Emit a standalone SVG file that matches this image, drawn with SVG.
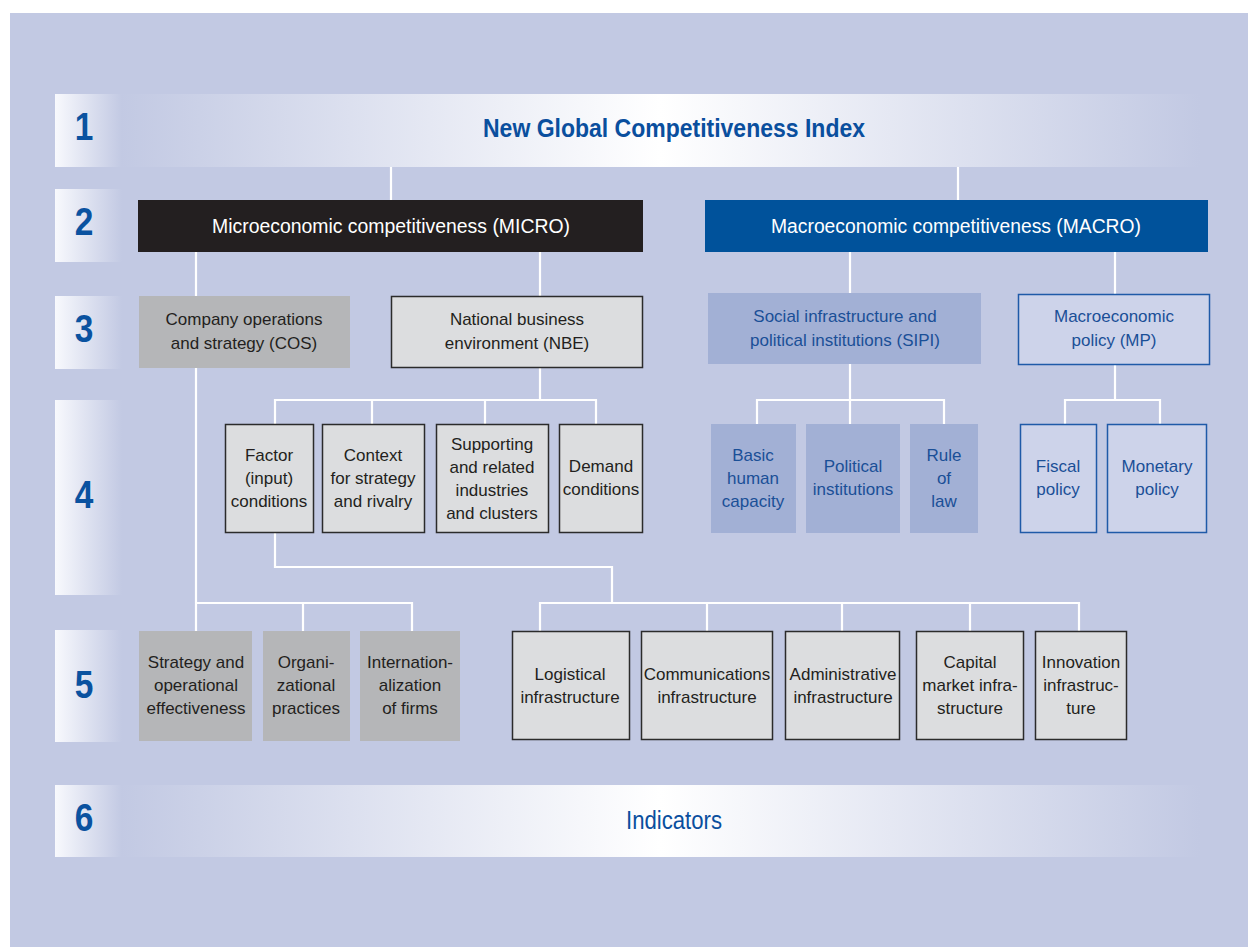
<svg xmlns="http://www.w3.org/2000/svg" width="1248" height="947" viewBox="0 0 1248 947">
<defs>
<linearGradient id="cellGrad" x1="0" y1="0" x2="1" y2="0">
<stop offset="0" stop-color="#f8f9fd"/>
<stop offset="1" stop-color="#c2c9e3"/>
</linearGradient>
<linearGradient id="bandGrad" gradientUnits="userSpaceOnUse" x1="120" y1="0" x2="1200" y2="0">
<stop offset="0" stop-color="#c2c9e3"/>
<stop offset="0.5" stop-color="#ffffff"/>
<stop offset="1" stop-color="#c2c9e3"/>
</linearGradient>
<style>
text{font-family:"Liberation Sans",Arial,sans-serif;text-anchor:middle}
.num{font-size:38px;font-weight:bold;fill:#0a52a0}
.t{font-size:17px;fill:#231f20}
.tb{font-size:17px;fill:#1a4f97}
.hdr{font-size:20px;fill:#ffffff}
.title{font-size:25px;font-weight:bold;fill:#0a4f9e}
.ind{font-size:25px;fill:#0a4f9e}
.gray{fill:#b5b6b8}
.light{fill:#dcdddf;stroke:#2b2b2b;stroke-width:1.5}
.sipi{fill:#a2b0d5}
.mp{fill:#cdd3ea;stroke:#1f5aa8;stroke-width:1.5}
.conn{fill:none;stroke:#ffffff;stroke-width:2.2}
</style>
</defs>
<rect x="0" y="0" width="1248" height="947" fill="#ffffff"/>
<rect x="10" y="13" width="1238" height="934" fill="#c2c9e3"/>

<g id="rows">
<rect x="120" y="94" width="1080" height="73" fill="url(#bandGrad)"/>
<rect x="120" y="785" width="1080" height="72" fill="url(#bandGrad)"/>
<rect x="55" y="94" width="67" height="73" fill="url(#cellGrad)"/>
<rect x="55" y="189" width="67" height="73" fill="url(#cellGrad)"/>
<rect x="55" y="296" width="67" height="73" fill="url(#cellGrad)"/>
<rect x="55" y="400" width="67" height="195" fill="url(#cellGrad)"/>
<rect x="55" y="630" width="67" height="112" fill="url(#cellGrad)"/>
<rect x="55" y="785" width="67" height="72" fill="url(#cellGrad)"/>
<text class="num" transform="translate(84,140) scale(0.88,1)">1</text>
<text class="num" transform="translate(84,235) scale(0.88,1)">2</text>
<text class="num" transform="translate(84,342) scale(0.88,1)">3</text>
<text class="num" transform="translate(84,508) scale(0.88,1)">4</text>
<text class="num" transform="translate(84,698) scale(0.88,1)">5</text>
<text class="num" transform="translate(84,831) scale(0.88,1)">6</text>
</g>

<g id="connectors">
<path class="conn" d="M391,167V200M958,167V200"/>
<path class="conn" d="M196,252V631M196,603H412V631M303,603V631"/>
<path class="conn" d="M540,252V296"/>
<path class="conn" d="M540,367V400M275,424V400H596V424M372,400V424M485,400V424"/>
<path class="conn" d="M275,533V567H612V603M540,631V603H1079V631M707,603V631M842,603V631M970,603V631"/>
<path class="conn" d="M850,252V293M850,364V424M757,424V400H944V424"/>
<path class="conn" d="M1115,252V294M1115,364V400M1065,424V400H1160V424"/>
</g>

<g id="gci">
<text class="title" x="674" y="137" textLength="382" lengthAdjust="spacingAndGlyphs">New Global Competitiveness Index</text>
</g>

<g id="micro">
<rect x="138" y="200" width="505" height="52" fill="#231f20"/>
<text class="hdr" x="391" y="233" textLength="358" lengthAdjust="spacingAndGlyphs">Microeconomic competitiveness (MICRO)</text>
</g>
<g id="macro">
<rect x="705" y="200" width="503" height="52" fill="#00529b"/>
<text class="hdr" x="956" y="233" textLength="370" lengthAdjust="spacingAndGlyphs">Macroeconomic competitiveness (MACRO)</text>
</g>

<g id="cos">
<rect class="gray" x="139" y="296" width="211" height="72"/>
<text class="t" x="244" y="325"><tspan x="244">Company operations</tspan><tspan x="244" dy="24">and strategy (COS)</tspan></text>
</g>
<g id="nbe">
<rect class="light" x="391.5" y="296.5" width="251" height="71"/>
<text class="t" x="517" y="325"><tspan x="517">National business</tspan><tspan x="517" dy="24">environment (NBE)</tspan></text>
</g>
<g id="sipi">
<rect class="sipi" x="708" y="293" width="273" height="71"/>
<text class="tb" x="845" y="322"><tspan x="845">Social infrastructure and</tspan><tspan x="845" dy="24">political institutions (SIPI)</tspan></text>
</g>
<g id="mp">
<rect class="mp" x="1018.5" y="294.5" width="191" height="70"/>
<text class="tb" x="1114" y="322"><tspan x="1114">Macroeconomic</tspan><tspan x="1114" dy="24">policy (MP)</tspan></text>
</g>

<g id="factor">
<rect class="light" x="225.5" y="424.5" width="88" height="108"/>
<text class="t" y="461"><tspan x="269">Factor</tspan><tspan x="269" dy="23">(input)</tspan><tspan x="269" dy="23">conditions</tspan></text>
</g>
<g id="context">
<rect class="light" x="322.5" y="424.5" width="102" height="108"/>
<text class="t" y="461"><tspan x="373">Context</tspan><tspan x="373" dy="23">for strategy</tspan><tspan x="373" dy="23">and rivalry</tspan></text>
</g>
<g id="supporting">
<rect class="light" x="436.5" y="424.5" width="112" height="108"/>
<text class="t" y="450"><tspan x="492">Supporting</tspan><tspan x="492" dy="23">and related</tspan><tspan x="492" dy="23">industries</tspan><tspan x="492" dy="23">and clusters</tspan></text>
</g>
<g id="demand">
<rect class="light" x="559.5" y="424.5" width="83" height="108"/>
<text class="t" y="472"><tspan x="601">Demand</tspan><tspan x="601" dy="23">conditions</tspan></text>
</g>

<g id="basic">
<rect class="sipi" x="711" y="424" width="85" height="109"/>
<text class="tb" y="461"><tspan x="753">Basic</tspan><tspan x="753" dy="23">human</tspan><tspan x="753" dy="23">capacity</tspan></text>
</g>
<g id="political">
<rect class="sipi" x="806" y="424" width="94" height="109"/>
<text class="tb" y="472"><tspan x="853">Political</tspan><tspan x="853" dy="23">institutions</tspan></text>
</g>
<g id="rule">
<rect class="sipi" x="910" y="424" width="68" height="109"/>
<text class="tb" y="461"><tspan x="944">Rule</tspan><tspan x="944" dy="23">of</tspan><tspan x="944" dy="23">law</tspan></text>
</g>
<g id="fiscal">
<rect class="mp" x="1020.5" y="424.5" width="76" height="108"/>
<text class="tb" y="472"><tspan x="1058">Fiscal</tspan><tspan x="1058" dy="23">policy</tspan></text>
</g>
<g id="monetary">
<rect class="mp" x="1107.5" y="424.5" width="99" height="108"/>
<text class="tb" y="472"><tspan x="1157">Monetary</tspan><tspan x="1157" dy="23">policy</tspan></text>
</g>

<g id="strategy">
<rect class="gray" x="139" y="631" width="113" height="110"/>
<text class="t" y="668"><tspan x="196">Strategy and</tspan><tspan x="196" dy="23">operational</tspan><tspan x="196" dy="23">effectiveness</tspan></text>
</g>
<g id="organi">
<rect class="gray" x="263" y="631" width="87" height="110"/>
<text class="t" y="668"><tspan x="306">Organi-</tspan><tspan x="306" dy="23">zational</tspan><tspan x="306" dy="23">practices</tspan></text>
</g>
<g id="internation">
<rect class="gray" x="360" y="631" width="100" height="110"/>
<text class="t" y="668"><tspan x="410">Internation-</tspan><tspan x="410" dy="23">alization</tspan><tspan x="410" dy="23">of firms</tspan></text>
</g>

<g id="logistical">
<rect class="light" x="512.5" y="631.5" width="117" height="108"/>
<text class="t" y="680"><tspan x="570">Logistical</tspan><tspan x="570" dy="23">infrastructure</tspan></text>
</g>
<g id="communications">
<rect class="light" x="641.5" y="631.5" width="131" height="108"/>
<text class="t" y="680"><tspan x="707">Communications</tspan><tspan x="707" dy="23">infrastructure</tspan></text>
</g>
<g id="administrative">
<rect class="light" x="785.5" y="631.5" width="114" height="108"/>
<text class="t" y="680"><tspan x="843">Administrative</tspan><tspan x="843" dy="23">infrastructure</tspan></text>
</g>
<g id="capital">
<rect class="light" x="916.5" y="631.5" width="107" height="108"/>
<text class="t" y="668"><tspan x="970">Capital</tspan><tspan x="970" dy="23">market infra-</tspan><tspan x="970" dy="23">structure</tspan></text>
</g>
<g id="innovation">
<rect class="light" x="1035.5" y="631.5" width="91" height="108"/>
<text class="t" y="668"><tspan x="1081">Innovation</tspan><tspan x="1081" dy="23">infrastruc-</tspan><tspan x="1081" dy="23">ture</tspan></text>
</g>

<g id="indicators">
<text class="ind" x="674" y="829" textLength="96" lengthAdjust="spacingAndGlyphs">Indicators</text>
</g>
</svg>
